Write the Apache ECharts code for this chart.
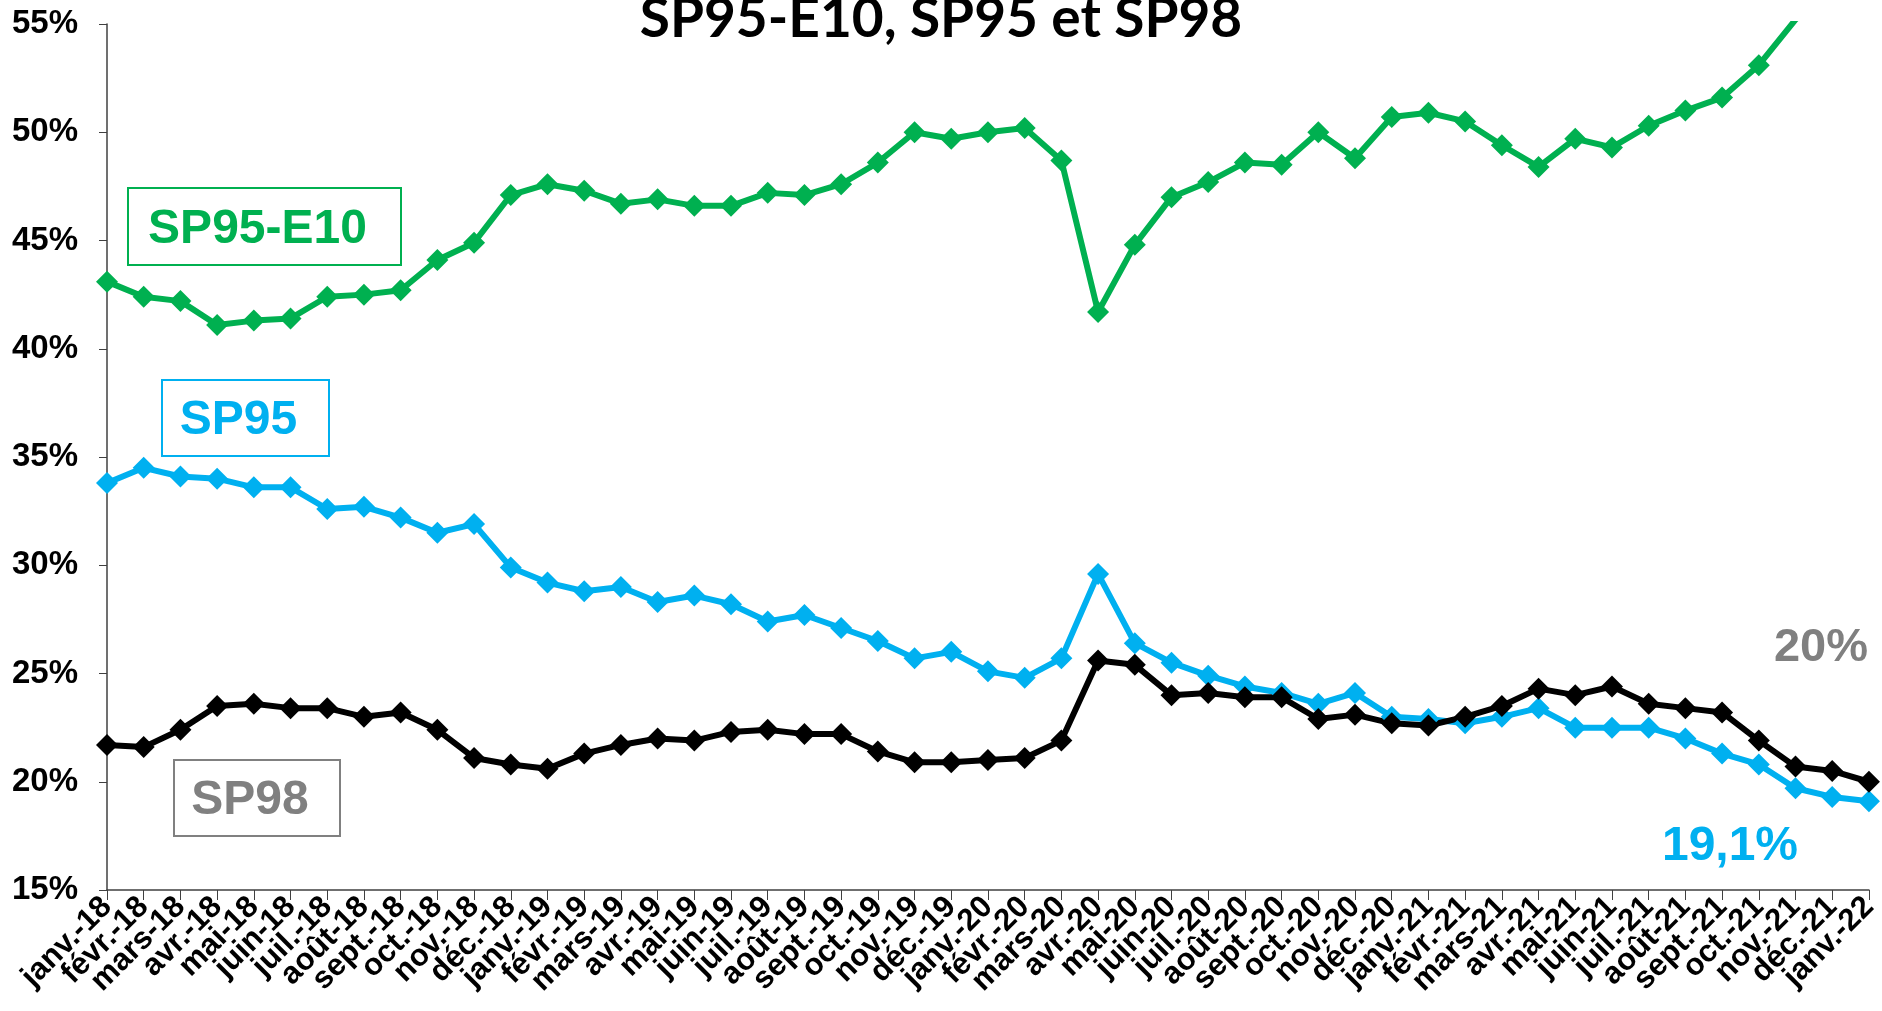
<!DOCTYPE html>
<html>
<head>
<meta charset="utf-8">
<script src="https://cdn.jsdelivr.net/npm/echarts@6/dist/echarts.min.js"></script>
<style>
  html, body { margin: 0; padding: 0; background: #fff; }
  #chart { width: 1882px; height: 1011px; }
</style>
</head>
<body>
<div id="chart"></div>
<script>
// mois (janv. 2018 -> janv. 2022)
const months = [
  'janv.-18', 'févr.-18', 'mars-18', 'avr.-18', 'mai-18', 'juin-18', 'juil.-18', 'août-18', 'sept.-18', 'oct.-18', 'nov.-18', 'déc.-18',
  'janv.-19', 'févr.-19', 'mars-19', 'avr.-19', 'mai-19', 'juin-19', 'juil.-19', 'août-19', 'sept.-19', 'oct.-19', 'nov.-19', 'déc.-19',
  'janv.-20', 'févr.-20', 'mars-20', 'avr.-20', 'mai-20', 'juin-20', 'juil.-20', 'août-20', 'sept.-20', 'oct.-20', 'nov.-20', 'déc.-20',
  'janv.-21', 'févr.-21', 'mars-21', 'avr.-21', 'mai-21', 'juin-21', 'juil.-21', 'août-21', 'sept.-21', 'oct.-21', 'nov.-21', 'déc.-21',
  'janv.-22'
]

// parts de marché (%)
const sp95e10 = [
  43.1, 42.4, 42.2, 41.1, 41.3, 41.4, 42.4, 42.5, 42.7, 44.1, 44.9, 47.1,
  47.6, 47.3, 46.7, 46.9, 46.6, 46.6, 47.2, 47.1, 47.6, 48.6, 50.0, 49.7,
  50.0, 50.2, 48.7, 41.7, 44.8, 47.0, 47.7, 48.6, 48.5, 50.0, 48.8, 50.7,
  50.9, 50.5, 49.4, 48.4, 49.7, 49.3, 50.3, 51.0, 51.6, 53.1, 55.2, 56.8,
  57.9
]
const sp95 = [
  33.8, 34.5, 34.1, 34.0, 33.6, 33.6, 32.6, 32.7, 32.2, 31.5, 31.9, 29.9,
  29.2, 28.8, 29.0, 28.3, 28.6, 28.2, 27.4, 27.7, 27.1, 26.5, 25.7, 26.0,
  25.1, 24.8, 25.7, 29.6, 26.4, 25.5, 24.9, 24.4, 24.1, 23.6, 24.1, 23.0,
  22.9, 22.7, 23.0, 23.4, 22.5, 22.5, 22.5, 22.0, 21.3, 20.8, 19.7, 19.3,
  19.1
]
const sp98 = [
  21.7, 21.6, 22.4, 23.5, 23.6, 23.4, 23.4, 23.0, 23.2, 22.4, 21.1, 20.8,
  20.6, 21.3, 21.7, 22.0, 21.9, 22.3, 22.4, 22.2, 22.2, 21.4, 20.9, 20.9,
  21.0, 21.1, 21.9, 25.6, 25.4, 24.0, 24.1, 23.9, 23.9, 22.9, 23.1, 22.7,
  22.6, 23.0, 23.5, 24.3, 24.0, 24.4, 23.6, 23.4, 23.2, 21.9, 20.7, 20.5,
  20.0
]

const GREEN = '#00B050'
const BLUE = '#00B0F0'
const BLACK = '#000000'
const GRAY = '#808080'
const FONT = '"Liberation Sans", Arial, sans-serif'

const chart = echarts.init(document.getElementById('chart'))

const makeSeries = (name, data, color) => ({
  name,
  type: 'line',
  data,
  symbol: 'diamond',
  symbolSize: 22,
  clip: true,
  lineStyle: { width: 6, color },
  itemStyle: { color },
  emphasis: { disabled: true },
  animation: false
})

// encadrés et étiquettes
const boxLabel = (text, x, y, w, h, color) => ({
  type: 'group',
  children: [
    {
      type: 'rect',
      shape: { x, y, width: w, height: h },
      style: { fill: '#fff', stroke: color, lineWidth: 2 }
    },
    {
      type: 'text',
      x: x + w / 2 - 7,
      y: y + h / 2 + 3,
      style: {
        text,
        fill: color,
        font: 'bold 48px ' + FONT,
        align: 'center',
        verticalAlign: 'middle'
      }
    }
  ]
})

const option = {
  animation: false,
  title: {
    text: 'SP95-E10, SP95 et SP98',
    left: 'center',
    top: -13,
    textStyle: {
      fontFamily: 'Lato, "Open Sans", sans-serif',
      fontWeight: 'bold',
      fontSize: 55,
      color: '#000'
    }
  },
  grid: {
    left: 107,
    right: 5,
    top: 24,
    bottom: 121
  },
  xAxis: {
    type: 'category',
    boundaryGap: false,
    data: months,
    axisLine: { lineStyle: { color: '#404040', width: 1.5 } },
    axisTick: { alignWithLabel: true, interval: 0, length: 10, lineStyle: { color: '#404040' } },
    axisLabel: {
      interval: 0,
      rotate: 45,
      margin: 12,
      color: '#000',
      fontFamily: FONT,
      fontWeight: 'bold',
      fontSize: 31
    }
  },
  yAxis: {
    type: 'value',
    min: 15,
    max: 55,
    interval: 5,
    axisLine: { show: true, lineStyle: { color: '#404040', width: 1.5 } },
    axisTick: { show: true, length: 8, lineStyle: { color: '#404040' } },
    splitLine: { show: false },
    axisLabel: {
      formatter: '{value}%',
      margin: 29,
      color: '#000',
      fontFamily: FONT,
      fontWeight: 'bold',
      fontSize: 33
    }
  },
  series: [
    makeSeries('SP95-E10', sp95e10, GREEN),
    makeSeries('SP95', sp95, BLUE),
    makeSeries('SP98', sp98, BLACK)
  ],
  graphic: [
    boxLabel('SP95-E10', 128, 188, 273, 77, GREEN),
    boxLabel('SP95', 162, 380, 167, 76, BLUE),
    boxLabel('SP98', 174, 760, 166, 76, GRAY),
    {
      type: 'text',
      x: 1821,
      y: 648,
      style: { text: '20%', fill: GRAY, font: 'bold 47px ' + FONT, align: 'center', verticalAlign: 'middle' }
    },
    {
      type: 'text',
      x: 1730,
      y: 847,
      style: { text: '19,1%', fill: BLUE, font: 'bold 48px ' + FONT, align: 'center', verticalAlign: 'middle' }
    }
  ]
}

chart.setOption(option)

window.addEventListener('resize', () => {
  chart.resize()
})
</script>
</body>
</html>
